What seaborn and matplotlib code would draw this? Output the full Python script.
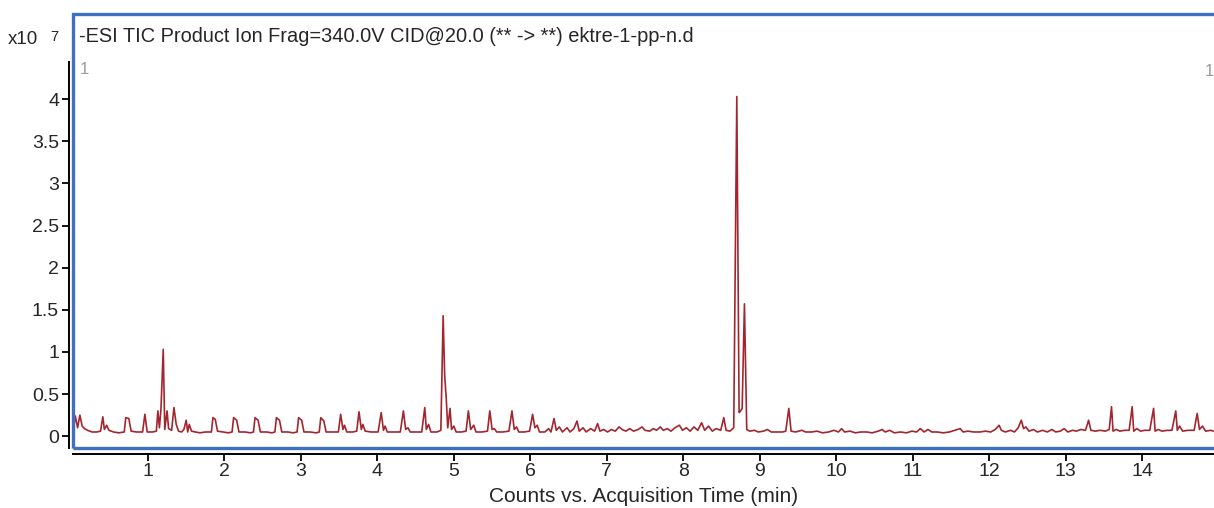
import matplotlib
matplotlib.use("Agg")
import matplotlib.pyplot as plt
from matplotlib.patches import Rectangle
import seaborn as sns
import pandas as pd

# TIC trace (time in min, counts in x10^7)
time_min = [
    0.02, 0.05, 0.08, 0.11, 0.14, 0.17, 0.21, 0.27, 0.33, 0.38, 0.41, 0.43, 0.46, 0.49,
    0.55, 0.62, 0.69, 0.71, 0.75, 0.78, 0.85, 0.93, 0.96, 0.99, 1.06, 1.11, 1.13, 1.15,
    1.17, 1.20, 1.22, 1.25, 1.27, 1.31, 1.34, 1.37, 1.40, 1.44, 1.47, 1.50, 1.52, 1.54,
    1.57, 1.62, 1.68, 1.75, 1.83, 1.85, 1.88, 1.91, 1.98, 2.05, 2.10, 2.12, 2.16, 2.19,
    2.27, 2.34, 2.38, 2.40, 2.44, 2.47, 2.55, 2.62, 2.66, 2.68, 2.72, 2.75, 2.83, 2.90,
    2.95, 2.97, 3.01, 3.04, 3.12, 3.20, 3.24, 3.26, 3.30, 3.33, 3.42, 3.49, 3.52, 3.55,
    3.57, 3.60, 3.68, 3.73, 3.76, 3.79, 3.81, 3.84, 3.92, 4.01, 4.05, 4.08, 4.10, 4.13,
    4.22, 4.30, 4.34, 4.37, 4.40, 4.43, 4.52, 4.58, 4.62, 4.64, 4.67, 4.70, 4.78, 4.83,
    4.86, 4.88, 4.90, 4.92, 4.95, 4.97, 5.00, 5.03, 5.10, 5.16, 5.19, 5.22, 5.26, 5.29,
    5.37, 5.44, 5.47, 5.50, 5.53, 5.56, 5.64, 5.72, 5.76, 5.79, 5.82, 5.85, 5.92, 5.99,
    6.03, 6.06, 6.09, 6.12, 6.19, 6.24, 6.27, 6.31, 6.34, 6.38, 6.42, 6.48, 6.52, 6.57,
    6.61, 6.64, 6.69, 6.73, 6.79, 6.84, 6.88, 6.91, 6.96, 7.01, 7.06, 7.11, 7.16, 7.20,
    7.25, 7.30, 7.35, 7.41, 7.46, 7.50, 7.56, 7.61, 7.65, 7.70, 7.74, 7.79, 7.84, 7.89,
    7.95, 7.99, 8.04, 8.09, 8.14, 8.19, 8.24, 8.28, 8.33, 8.38, 8.43, 8.49, 8.53, 8.56,
    8.61, 8.66, 8.70, 8.73, 8.75, 8.77, 8.80, 8.83, 8.87, 8.93, 8.98, 9.05, 9.10, 9.15,
    9.22, 9.30, 9.34, 9.38, 9.41, 9.47, 9.55, 9.60, 9.68, 9.75, 9.82, 9.90, 9.97, 10.03,
    10.07, 10.11, 10.18, 10.25, 10.32, 10.40, 10.47, 10.55, 10.60, 10.64, 10.70, 10.76,
    10.84, 10.92, 10.99, 11.05, 11.10, 11.15, 11.20, 11.25, 11.32, 11.40, 11.48, 11.55,
    11.62, 11.66, 11.72, 11.80, 11.88, 11.95, 12.02, 12.08, 12.13, 12.16, 12.21, 12.28,
    12.33, 12.38, 12.42, 12.45, 12.48, 12.52, 12.58, 12.63, 12.70, 12.76, 12.82, 12.87,
    12.93, 12.98, 13.03, 13.09, 13.14, 13.20, 13.26, 13.30, 13.33, 13.39, 13.45, 13.52,
    13.57, 13.60, 13.62, 13.66, 13.71, 13.77, 13.83, 13.87, 13.89, 13.93, 13.98, 14.03,
    14.10, 14.15, 14.17, 14.21, 14.26, 14.33, 14.39, 14.44, 14.46, 14.49, 14.53, 14.60,
    14.68, 14.72, 14.75, 14.79, 14.83, 14.90, 14.93,
]
counts_e7 = [
    0.05, 0.24, 0.10, 0.25, 0.12, 0.09, 0.07, 0.05, 0.05, 0.06, 0.23, 0.08, 0.13, 0.07,
    0.05, 0.04, 0.05, 0.22, 0.21, 0.06, 0.05, 0.05, 0.26, 0.05, 0.05, 0.06, 0.30, 0.10,
    0.32, 1.03, 0.08, 0.30, 0.09, 0.07, 0.34, 0.14, 0.06, 0.05, 0.08, 0.19, 0.05, 0.14,
    0.06, 0.05, 0.04, 0.05, 0.05, 0.22, 0.20, 0.06, 0.05, 0.04, 0.05, 0.22, 0.19, 0.05,
    0.05, 0.04, 0.05, 0.22, 0.19, 0.05, 0.05, 0.04, 0.05, 0.22, 0.19, 0.05, 0.05, 0.04,
    0.05, 0.22, 0.19, 0.05, 0.05, 0.04, 0.05, 0.22, 0.18, 0.05, 0.05, 0.05, 0.26, 0.08,
    0.13, 0.05, 0.05, 0.06, 0.29, 0.08, 0.14, 0.06, 0.05, 0.05, 0.28, 0.07, 0.12, 0.05,
    0.05, 0.05, 0.30, 0.08, 0.10, 0.05, 0.05, 0.05, 0.34, 0.08, 0.14, 0.05, 0.05, 0.07,
    1.43, 0.72, 0.46, 0.10, 0.33, 0.08, 0.12, 0.05, 0.05, 0.06, 0.30, 0.08, 0.13, 0.05,
    0.05, 0.06, 0.30, 0.08, 0.09, 0.05, 0.05, 0.06, 0.30, 0.08, 0.11, 0.05, 0.05, 0.06,
    0.26, 0.10, 0.13, 0.05, 0.05, 0.09, 0.05, 0.21, 0.07, 0.11, 0.05, 0.10, 0.05, 0.09,
    0.18, 0.06, 0.10, 0.05, 0.09, 0.06, 0.15, 0.06, 0.08, 0.05, 0.08, 0.06, 0.11, 0.08,
    0.06, 0.09, 0.06, 0.08, 0.11, 0.07, 0.06, 0.09, 0.07, 0.11, 0.07, 0.09, 0.06, 0.10,
    0.13, 0.07, 0.10, 0.06, 0.11, 0.07, 0.16, 0.07, 0.12, 0.06, 0.09, 0.07, 0.22, 0.07,
    0.06, 0.10, 4.03, 0.28, 0.30, 0.33, 1.57, 0.08, 0.06, 0.07, 0.05, 0.06, 0.08, 0.05,
    0.05, 0.05, 0.06, 0.33, 0.06, 0.05, 0.07, 0.05, 0.05, 0.06, 0.04, 0.05, 0.07, 0.05,
    0.09, 0.05, 0.06, 0.04, 0.05, 0.05, 0.04, 0.06, 0.08, 0.05, 0.07, 0.04,
    0.05, 0.04, 0.06, 0.05, 0.09, 0.05, 0.08, 0.05, 0.05, 0.04, 0.05, 0.07,
    0.09, 0.05, 0.06, 0.05, 0.05, 0.06, 0.05, 0.08, 0.13, 0.07, 0.05, 0.07,
    0.05, 0.10, 0.19, 0.09, 0.11, 0.06, 0.08, 0.05, 0.07, 0.05, 0.08, 0.05,
    0.06, 0.09, 0.05, 0.07, 0.06, 0.08, 0.07, 0.19, 0.07, 0.06, 0.07, 0.06,
    0.08, 0.35, 0.06, 0.08, 0.06, 0.07, 0.07, 0.35, 0.06, 0.09, 0.06, 0.07,
    0.07, 0.33, 0.06, 0.08, 0.06, 0.07, 0.07, 0.30, 0.07, 0.12, 0.06, 0.07,
    0.07, 0.27, 0.08, 0.12, 0.06, 0.07, 0.06,
]

y_ticks = [0, 0.5, 1, 1.5, 2, 2.5, 3, 3.5, 4]
y_tick_labels = ["0", "0.5", "1", "1.5", "2", "2.5", "3", "3.5", "4"]
x_ticks = list(range(1, 15))

title = "-ESI TIC Product Ion Frag=340.0V CID@20.0 (** -> **) ektre-1-pp-n.d"

df = pd.DataFrame({"time": time_min, "counts": counts_e7})

sns.set_style("white")
plt.rcParams["font.family"] = ["Liberation Sans", "DejaVu Sans"]

W, H = 1214, 508
fig = plt.figure(figsize=(W / 100, H / 100), dpi=100)
ax = fig.add_axes([73 / W, (H - 448) / H, (W - 73) / W, (448 - 62) / H])

sns.lineplot(data=df, x="time", y="counts", ax=ax, color="#a3262f", lw=1.2,
             estimator=None, sort=False)

ax.set_xlim(0.02, 14.94)
ax.set_ylim(-0.14, 4.44)
ax.set_xticks(x_ticks)
ax.set_xticklabels([str(t) for t in x_ticks])
ax.set_yticks(y_ticks)
ax.set_yticklabels(y_tick_labels)
ax.tick_params(axis="both", labelsize=14, length=5, width=1.3, color="black",
               direction="out", left=True, bottom=True, pad=2)
ax.set_xlabel("Counts vs. Acquisition Time (min)", fontsize=15, labelpad=5)
ax.set_ylabel("")

for side in ["top", "right"]:
    ax.spines[side].set_visible(False)
ax.spines["left"].set_position(("outward", 3))
ax.spines["bottom"].set_position(("outward", 4))
for side in ["left", "bottom"]:
    ax.spines[side].set_color("black")
    ax.spines[side].set_linewidth(1.4)

# blue panel frame
fig.patches.append(Rectangle((73 / W, (H - 448) / H), (W + 10 - 73) / W, (448 - 14) / H,
                             transform=fig.transFigure, fill=False,
                             edgecolor="#3f6fbf", lw=2.4, zorder=5))

fig.text(79 / W, (H - 37) / H, title, fontsize=14.4, va="center", ha="left")
fig.text(8 / W, (H - 40) / H, "x10", fontsize=13.5, va="center", ha="left")
fig.text(50 / W, (H - 37) / H, "7", fontsize=10.5, va="center", ha="left")
fig.text(80 / W, (H - 70) / H, "1", fontsize=12, color="#9a9a9a", va="center", ha="left")
fig.text(1205 / W, (H - 72) / H, "1", fontsize=12, color="#9a9a9a", va="center", ha="left")

fig.savefig("out.png", dpi=100)
